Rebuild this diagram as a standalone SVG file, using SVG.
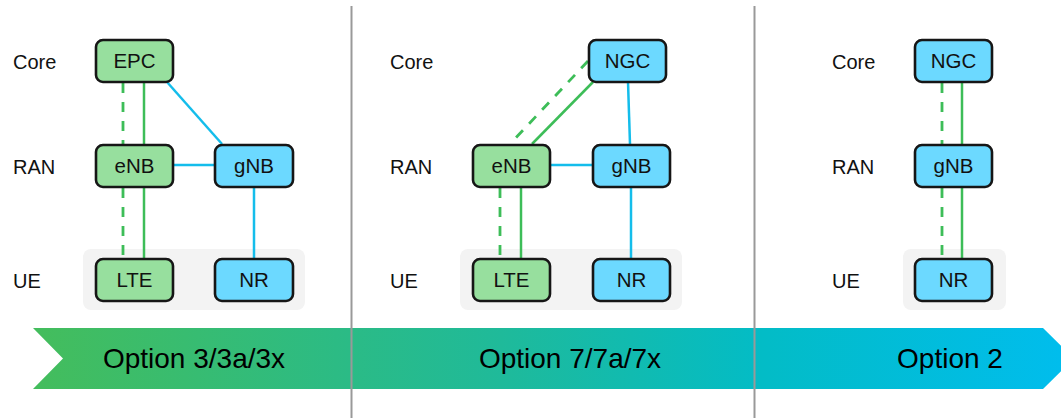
<svg xmlns="http://www.w3.org/2000/svg" width="1061" height="418" viewBox="0 0 1061 418">
  <defs>
    <linearGradient id="band" x1="0" y1="0" x2="1" y2="0">
      <stop offset="0" stop-color="#44BD5C"/>
      <stop offset="0.45" stop-color="#1FBA9A"/>
      <stop offset="0.7" stop-color="#03BCC6"/>
      <stop offset="1" stop-color="#00BDEE"/>
    </linearGradient>
    <style>
      .lbl { font-family: "Liberation Sans", Arial, sans-serif; font-size: 20px; fill: #111; }
      .nt { font-family: "Liberation Sans", Arial, sans-serif; font-size: 20.5px; fill: #111; text-anchor: middle; }
      .opt { font-family: "Liberation Sans", Arial, sans-serif; font-size: 28px; fill: #000; text-anchor: middle; }
      .g { fill: #97DF9E; stroke: #161616; stroke-width: 2.6; }
      .b { fill: #6CD9FF; stroke: #161616; stroke-width: 2.6; }
      .ue { fill: #F3F3F3; }
      .lg { stroke: #3DBD58; stroke-width: 2.5; fill: none; }
      .ld { stroke: #3DBD58; stroke-width: 2.8; fill: none; stroke-dasharray: 10 9; }
      .lb { stroke: #14BDEB; stroke-width: 2.5; fill: none; }
      .div { stroke: #999; stroke-width: 2; }
    </style>
  </defs>
  <rect width="1061" height="418" fill="#fff"/>

  <!-- UE backgrounds -->
  <rect class="ue" x="83" y="249" width="222" height="61" rx="8"/>
  <rect class="ue" x="460" y="249" width="222" height="61" rx="8"/>
  <rect class="ue" x="903" y="249" width="103" height="61" rx="8"/>

  <!-- layer labels -->
  <g id="labels">
    <text class="lbl" x="13" y="69">Core</text>
    <text class="lbl" x="13" y="174">RAN</text>
    <text class="lbl" x="13" y="288">UE</text>
    <text class="lbl" x="390" y="69">Core</text>
    <text class="lbl" x="390" y="174">RAN</text>
    <text class="lbl" x="390" y="288">UE</text>
    <text class="lbl" x="832" y="69">Core</text>
    <text class="lbl" x="832" y="174">RAN</text>
    <text class="lbl" x="832" y="288">UE</text>
  </g>

  <!-- connectors -->
  <g id="connectors">
    <!-- panel 1 -->
    <line class="ld" x1="123" y1="83" x2="123" y2="144"/>
    <line class="lg" x1="144" y1="82" x2="144" y2="144"/>
    <line class="ld" x1="123" y1="188" x2="123" y2="258"/>
    <line class="lg" x1="144" y1="187" x2="144" y2="258"/>
    <line class="lb" x1="167" y1="82" x2="222" y2="144"/>
    <line class="lb" x1="174" y1="165" x2="214" y2="165"/>
    <line class="lb" x1="254" y1="187" x2="254" y2="258"/>
    <!-- panel 2 -->
    <line class="ld" x1="588" y1="61" x2="510" y2="144"/>
    <line class="lg" x1="593" y1="82" x2="532" y2="144"/>
    <line class="lb" x1="551" y1="165" x2="592" y2="165"/>
    <line class="lb" x1="628" y1="82" x2="630" y2="144"/>
    <line class="lb" x1="631" y1="187" x2="631" y2="258"/>
    <line class="ld" x1="500" y1="188" x2="500" y2="258"/>
    <line class="lg" x1="521" y1="187" x2="521" y2="258"/>
    <!-- panel 3 -->
    <line class="ld" x1="942" y1="83" x2="942" y2="144"/>
    <line class="lg" x1="962" y1="82" x2="962" y2="144"/>
    <line class="ld" x1="942" y1="188" x2="942" y2="258"/>
    <line class="lg" x1="962" y1="187" x2="962" y2="258"/>
  </g>

  <!-- panel 1 nodes -->
  <g id="epc1"><rect class="g" x="96" y="40" width="77" height="42" rx="7"/><text class="nt" x="134.5" y="68">EPC</text></g>
  <g id="enb1"><rect class="g" x="96" y="145" width="77" height="42" rx="7"/><text class="nt" x="134.5" y="173">eNB</text></g>
  <g id="gnb1"><rect class="b" x="215" y="145" width="78" height="42" rx="7"/><text class="nt" x="254" y="173">gNB</text></g>
  <g id="lte1"><rect class="g" x="96" y="259" width="77" height="42" rx="7"/><text class="nt" x="134.5" y="287">LTE</text></g>
  <g id="nr1"><rect class="b" x="215" y="259" width="78" height="42" rx="7"/><text class="nt" x="254" y="287">NR</text></g>

  <!-- panel 2 nodes -->
  <g id="ngc2"><rect class="b" x="589" y="40" width="77" height="42" rx="7"/><text class="nt" x="627.5" y="68">NGC</text></g>
  <g id="enb2"><rect class="g" x="473" y="145" width="77" height="42" rx="7"/><text class="nt" x="511.5" y="173">eNB</text></g>
  <g id="gnb2"><rect class="b" x="593" y="145" width="77" height="42" rx="7"/><text class="nt" x="631.5" y="173">gNB</text></g>
  <g id="lte2"><rect class="g" x="473" y="259" width="77" height="42" rx="7"/><text class="nt" x="511.5" y="287">LTE</text></g>
  <g id="nr2"><rect class="b" x="593" y="259" width="77" height="42" rx="7"/><text class="nt" x="631.5" y="287">NR</text></g>

  <!-- panel 3 nodes -->
  <g id="ngc3"><rect class="b" x="915" y="40" width="77" height="42" rx="7"/><text class="nt" x="953.5" y="68">NGC</text></g>
  <g id="gnb3"><rect class="b" x="915" y="145" width="77" height="42" rx="7"/><text class="nt" x="953.5" y="173">gNB</text></g>
  <g id="nr3"><rect class="b" x="915" y="259" width="77" height="42" rx="7"/><text class="nt" x="953.5" y="287">NR</text></g>

  <!-- option band -->
  <g id="band-arrow">
    <polygon points="33,328 1043,328 1074,358.5 1043,389 33,389 63,358.5" fill="url(#band)"/>
    <text class="opt" x="194" y="368">Option 3/3a/3x</text>
    <text class="opt" x="570" y="368">Option 7/7a/7x</text>
    <text class="opt" x="950" y="368">Option 2</text>
  </g>

  <!-- dividers -->
  <line class="div" x1="351.5" y1="6" x2="351.5" y2="418"/>
  <line class="div" x1="754.5" y1="6" x2="754.5" y2="418"/>
</svg>
